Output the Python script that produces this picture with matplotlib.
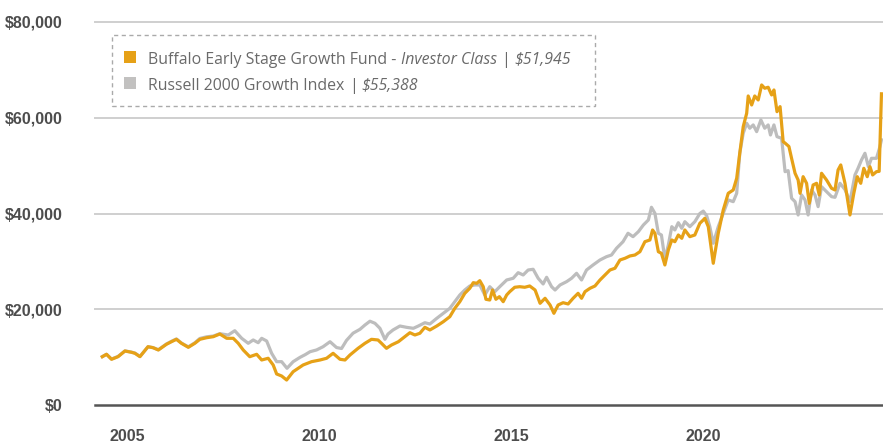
import matplotlib
matplotlib.use("Agg")
import matplotlib.pyplot as plt
from matplotlib.patches import Rectangle
from matplotlib.ticker import FuncFormatter

# ---------------- data ----------------
fund_name = "Buffalo Early Stage Growth Fund - "
fund_class = "Investor Class"
fund_final = "$51,945"
index_name = "Russell 2000 Growth Index"
index_final = "$55,388"

fund_years = [2004.36, 2004.47, 2004.60, 2004.77, 2004.95, 2005.12, 2005.21, 2005.34, 2005.55, 2005.68,
              2005.82, 2006.03, 2006.16, 2006.29, 2006.42, 2006.60, 2006.77, 2006.90, 2007.08, 2007.25,
              2007.42, 2007.60, 2007.77, 2007.90, 2008.03, 2008.20, 2008.38, 2008.51, 2008.68, 2008.81,
              2008.90, 2009.03, 2009.16, 2009.33, 2009.59, 2009.81, 2010.03, 2010.20, 2010.37, 2010.55,
              2010.68, 2010.81, 2011.02, 2011.20, 2011.37, 2011.54, 2011.63, 2011.76, 2011.89, 2012.07,
              2012.24, 2012.37, 2012.50, 2012.63, 2012.76, 2012.89, 2013.07, 2013.24, 2013.41, 2013.54,
              2013.67, 2013.80, 2013.93, 2014.02, 2014.11, 2014.19, 2014.28, 2014.35, 2014.45, 2014.52,
              2014.61, 2014.70, 2014.80, 2014.89, 2014.97, 2015.10, 2015.23, 2015.36, 2015.49, 2015.63,
              2015.76, 2015.89, 2016.02, 2016.12, 2016.23, 2016.36, 2016.49, 2016.62, 2016.75, 2016.84,
              2016.93, 2017.06, 2017.19, 2017.32, 2017.45, 2017.58, 2017.71, 2017.84, 2017.97, 2018.10,
              2018.23, 2018.36, 2018.49, 2018.62, 2018.69, 2018.75, 2018.84, 2018.92, 2019.01, 2019.10,
              2019.19, 2019.27, 2019.36, 2019.45, 2019.53, 2019.66, 2019.79, 2019.92, 2020.01, 2020.05,
              2020.14, 2020.27, 2020.40, 2020.53, 2020.66, 2020.79, 2020.88, 2020.96, 2021.05, 2021.14,
              2021.18, 2021.27, 2021.35, 2021.44, 2021.53, 2021.61, 2021.70, 2021.79, 2021.85, 2021.93,
              2022.01, 2022.09, 2022.14, 2022.24, 2022.31, 2022.40, 2022.48, 2022.53, 2022.61, 2022.70,
              2022.77, 2022.87, 2022.96, 2023.03, 2023.09, 2023.22, 2023.35, 2023.44, 2023.52, 2023.59,
              2023.70, 2023.83, 2023.93, 2024.02, 2024.11, 2024.19, 2024.28, 2024.35, 2024.42, 2024.52,
              2024.59, 2024.65]
fund_values = [10090, 10590, 9550, 10090, 11280, 11010, 10800, 10090, 12180, 11970,
               11490, 12680, 13220, 13720, 12890, 12050, 12890, 13720, 14060, 14270,
               14830, 13930, 13930, 12890, 11490, 10090, 10590, 9400, 9760, 8360,
               6480, 6060, 5220, 6960, 8360, 9050, 9400, 9760, 10800, 9550,
               9400, 10450, 11840, 12890, 13720, 13580, 12890, 11840, 12530, 13220,
               14270, 15100, 14620, 14980, 16230, 15670, 16500, 17400, 18450, 20200,
               21580, 23330, 24380, 25550, 25420, 25970, 24710, 22080, 21930, 24020,
               22080, 22620, 21580, 22980, 23670, 24590, 24710, 24590, 24860, 24020,
               21240, 22290, 20890, 19150, 20890, 21370, 21100, 22290, 23330, 22290,
               23670, 24380, 24860, 26110, 27160, 28200, 28560, 30290, 30640, 31130,
               31330, 32020, 34110, 34470, 36560, 35870, 32020, 31690, 29250, 32380,
               34470, 34110, 35510, 34820, 36560, 35160, 35510, 37950, 38650, 39000,
               37250, 29600, 35870, 40740, 44220, 44910, 47360, 52580, 58140, 60930,
               64550, 62670, 64550, 63710, 66850, 66160, 66370, 64760, 65800, 61270,
               62320, 55010, 54700, 54000, 51500, 48400, 47000, 44220, 47690, 46310,
               42130, 45960, 46310, 43870, 48400, 47000, 45270, 44910, 49090, 50140,
               46310, 39690, 44220, 47690, 46310, 49440, 47690, 49780, 48050, 48740,
               48800, 65000]

index_years = [2004.36, 2004.47, 2004.60, 2004.77, 2004.95, 2005.12, 2005.21, 2005.34, 2005.55, 2005.68,
               2005.82, 2006.03, 2006.16, 2006.29, 2006.42, 2006.60, 2006.77, 2006.90, 2007.08, 2007.25,
               2007.42, 2007.64, 2007.81, 2007.99, 2008.16, 2008.29, 2008.42, 2008.51, 2008.64, 2008.77,
               2008.90, 2009.03, 2009.17, 2009.33, 2009.51, 2009.64, 2009.77, 2009.94, 2010.11, 2010.29,
               2010.46, 2010.59, 2010.72, 2010.89, 2011.07, 2011.20, 2011.33, 2011.46, 2011.59, 2011.72,
               2011.80, 2011.93, 2012.11, 2012.28, 2012.46, 2012.59, 2012.76, 2012.89, 2013.07, 2013.24,
               2013.41, 2013.54, 2013.67, 2013.80, 2013.93, 2014.06, 2014.19, 2014.32, 2014.45, 2014.58,
               2014.71, 2014.89, 2015.06, 2015.19, 2015.32, 2015.45, 2015.58, 2015.71, 2015.84, 2015.93,
               2016.06, 2016.15, 2016.28, 2016.45, 2016.58, 2016.71, 2016.84, 2016.97, 2017.14, 2017.32,
               2017.49, 2017.62, 2017.75, 2017.92, 2018.05, 2018.18, 2018.32, 2018.45, 2018.58, 2018.66,
               2018.75, 2018.84, 2018.92, 2019.01, 2019.10, 2019.19, 2019.27, 2019.36, 2019.45, 2019.53,
               2019.66, 2019.79, 2019.92, 2020.01, 2020.10, 2020.18, 2020.27, 2020.40, 2020.53, 2020.66,
               2020.79, 2020.88, 2020.96, 2021.05, 2021.14, 2021.22, 2021.31, 2021.40, 2021.51, 2021.61,
               2021.70, 2021.76, 2021.85, 2021.93, 2022.05, 2022.14, 2022.22, 2022.31, 2022.40, 2022.48,
               2022.57, 2022.66, 2022.74, 2022.83, 2022.92, 2023.00, 2023.09, 2023.22, 2023.35, 2023.44,
               2023.57, 2023.70, 2023.83, 2023.96, 2024.04, 2024.13, 2024.22, 2024.31, 2024.39, 2024.52,
               2024.61, 2024.65]
index_values = [10100, 10600, 9600, 10150, 11300, 11050, 10850, 10150, 12150, 12000,
                11550, 12750, 13300, 13800, 12950, 12150, 13000, 13900, 14250, 14400,
                14900, 14620, 15520, 13930, 12890, 13580, 13010, 13930, 13370, 10800,
                9050, 9050, 7670, 9050, 9960, 10500, 11130, 11500, 12180, 13220,
                12000, 11800, 13500, 15000, 15810, 16710, 17500, 17070, 16020, 13720,
                14830, 15670, 16500, 16230, 16020, 16500, 17190, 16920, 18110, 19160,
                20200, 21580, 22980, 24020, 24860, 25070, 25070, 22980, 24710, 23670,
                24710, 26110, 26470, 27640, 27160, 28200, 28350, 26470, 25280, 26680,
                24710, 24020, 25070, 25760, 26470, 27510, 26110, 28200, 29250, 30290,
                30980, 31330, 32730, 34110, 35870, 35160, 36210, 37600, 38650, 41300,
                40050, 35870, 35510, 30500, 33420, 37250, 36560, 38080, 36910, 38290,
                37250, 38290, 40000, 40500, 39500, 37250, 33780, 37250, 40050, 42830,
                42470, 44220, 52580, 56760, 58850, 57810, 58500, 57100, 59540, 57810,
                58500, 56400, 58500, 56050, 55710, 48740, 48950, 43180, 42470, 39690,
                43870, 42830, 39690, 44910, 43870, 41430, 45600, 44560, 43520, 43380,
                46310, 45000, 42500, 48050, 49440, 51180, 52580, 49780, 51530, 51530,
                53960, 55388]

year_ticks = [2005, 2010, 2015, 2020]
value_ticks = [0, 20000, 40000, 60000, 80000]

# ---------------- style ----------------
W, H = 883, 445
ORANGE = "#E6A117"
GRAY = "#BDBDBD"
GRAY_SQ = "#C2C1C0"
TEXT = "#6A6A6A"
TICK = "#4D4D4D"

fig = plt.figure(figsize=(W / 100, H / 100), dpi=100)
ax = fig.add_axes([95 / W, 40 / H, 788 / W, 383 / H])

ax.plot(index_years, index_values, color=GRAY, lw=2.3, solid_joinstyle="round", zorder=3)
ax.plot(fund_years, fund_values, color=ORANGE, lw=2.3, solid_joinstyle="round", zorder=4)

ax.set_xlim(2004.17, 2024.69)
ax.set_ylim(0, 80000)
ax.set_xticks(year_ticks)
ax.set_yticks(value_ticks)
ax.yaxis.set_major_formatter(FuncFormatter(lambda v, p: f"${v:,.0f}"))

for s in ax.spines.values():
    s.set_visible(False)
for v in value_ticks:
    if v == 0:
        ax.axhline(v, color="#555555", lw=1.8, zorder=2, clip_on=False)
    else:
        ax.axhline(v, color="#CFCFCF", lw=1.4, zorder=1, clip_on=False)

ax.tick_params(axis="both", length=0, colors=TICK)
ax.tick_params(axis="y", pad=23)
ax.tick_params(axis="x", pad=17)
for lab in ax.get_xticklabels() + ax.get_yticklabels():
    lab.set_fontfamily("Liberation Sans")
    lab.set_fontweight("bold")
    lab.set_fontsize(11.5)
    lab.set_color(TICK)

# ---------------- legend (manual) ----------------
def fx(px):
    return px / W

def fy(py):
    return 1 - py / H

box = Rectangle((fx(111.5), fy(106)), fx(595) - fx(111.5), fy(35) - fy(106),
                transform=fig.transFigure, fill=False, edgecolor="#AAAAAA",
                lw=1.0, linestyle=(0, (3, 2.5)), zorder=5)
fig.patches.append(box)
fig.patches.append(Rectangle((fx(124), fy(63.3)), fx(12), 12 / H, transform=fig.transFigure,
                             facecolor=ORANGE, edgecolor="none"))
fig.patches.append(Rectangle((fx(124), fy(89.3)), fx(12), 12 / H, transform=fig.transFigure,
                             facecolor=GRAY_SQ, edgecolor="none"))

renderer = fig.canvas.get_renderer()
FS = 11.45
FAM = "Open Sans"

def text_width(s, style):
    t = fig.text(0, 0, s, fontsize=FS, family=FAM, style=style)
    w = t.get_window_extent(renderer=renderer).width
    t.remove()
    return w

space_w = text_width("x x", "normal") - text_width("xx", "normal")

def write_line(pieces, x0, baseline):
    x = x0
    for s, style in pieces:
        lead = len(s) - len(s.lstrip(" "))
        trail = len(s) - len(s.rstrip(" "))
        core = s.strip(" ")
        x += lead * space_w
        t = fig.text(fx(x), fy(baseline), core, fontsize=FS, family=FAM, style=style,
                     color=TEXT, ha="left", va="baseline")
        x += t.get_window_extent(renderer=renderer).width
        x += trail * space_w

write_line([(fund_name, "normal"), (fund_class, "italic"), (" | ", "normal"), (fund_final, "italic")],
           148.3, 64.3)
write_line([(index_name, "normal"), (" | ", "normal"), (index_final, "italic")], 148.3, 90.0)

fig.savefig("out.png", dpi=100)
